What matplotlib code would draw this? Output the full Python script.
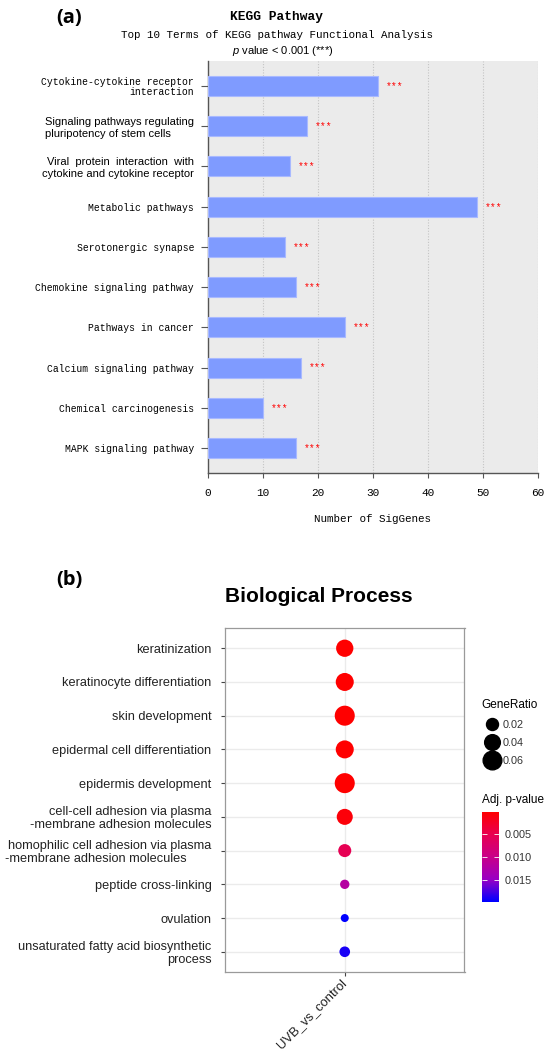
import matplotlib.pyplot as plt
import matplotlib.colors as mcolors
from matplotlib.lines import Line2D
import numpy as np

plt.rcParams['mathtext.fontset'] = 'custom'
plt.rcParams['mathtext.it'] = 'Liberation Sans:italic'
plt.rcParams['mathtext.rm'] = 'Liberation Sans'

MONO = "Liberation Mono"
SANS = "Liberation Sans"

# (a) KEGG pathway enrichment
kegg_terms = ["Cytokine-cytokine receptor\ninteraction",
              "Signaling pathways regulating\npluripotency of stem cells",
              "Viral  protein  interaction  with\ncytokine and cytokine receptor",
              "Metabolic pathways",
              "Serotonergic synapse",
              "Chemokine signaling pathway",
              "Pathways in cancer",
              "Calcium signaling pathway",
              "Chemical carcinogenesis",
              "MAPK signaling pathway"]
kegg_genes = [31, 18, 15, 49, 14, 16, 25, 17, 10, 16]
kegg_stars = ["***"] * 10
kegg_xticks = [0, 10, 20, 30, 40, 50, 60]
# these two labels were typeset in a proportional font in the original
kegg_sans_terms = [1, 2]

# (b) GO biological process dot plot
bp_terms = ["keratinization",
            "keratinocyte differentiation",
            "skin development",
            "epidermal cell differentiation",
            "epidermis development",
            "cell-cell adhesion via plasma\n-membrane adhesion molecules",
            "homophilic cell adhesion via plasma\n-membrane adhesion molecules       ",
            "peptide cross-linking",
            "ovulation",
            "unsaturated fatty acid biosynthetic\nprocess"]
bp_ratio = [0.050, 0.055, 0.070, 0.055, 0.070, 0.042, 0.025, 0.009, 0.0045, 0.014]
bp_padj = [0.00001, 0.00001, 0.00001, 0.00001, 0.00001, 0.0006, 0.0052, 0.012, 0.0198, 0.019]
bp_group = "UVB_vs_control"
ratio_breaks = [0.02, 0.04, 0.06]
padj_breaks = [0.005, 0.010, 0.015]

W, H = 550, 1057
fig = plt.figure(figsize=(W / 100, H / 100), dpi=100)


def size_pt(r):
    # dot diameter in points, area grows linearly with the ratio
    return np.sqrt(41 + 5150 * np.asarray(r)) * 0.72


# ---------------- (a)
ax1 = fig.add_axes([207.7 / W, 1 - 473 / H, 330.3 / W, 412 / H])
y = np.arange(len(kegg_terms))
ax1.barh(y, kegg_genes, height=0.5, color="#7f9bff", edgecolor="#a8b9ff",
         linewidth=0.8, zorder=3)
for yi, v, s in zip(y, kegg_genes, kegg_stars):
    ax1.text(v + 1.4, yi, s, color="red", fontsize=7, family=MONO,
             ha="left", va="center", zorder=4)
ax1.set_facecolor("#ebebeb")
ax1.set_xlim(0, 60)
ax1.set_ylim(len(y) - 1 + 0.62, -0.62)
ax1.set_xticks(kegg_xticks)
ax1.xaxis.grid(True, linestyle=(0, (1, 1.5)), color="#c4c4c4", lw=0.8)
ax1.set_axisbelow(True)
for sp in ["top", "right"]:
    ax1.spines[sp].set_visible(False)
for sp in ["left", "bottom"]:
    ax1.spines[sp].set_color("#555555")
    ax1.spines[sp].set_linewidth(1)
ax1.set_yticks(y)
ax1.set_yticklabels(kegg_terms, fontsize=7, family=MONO, linespacing=1.05)
for i, lab in enumerate(ax1.get_yticklabels()):
    if i in kegg_sans_terms:
        lab.set_family(SANS)
        lab.set_fontsize(8)
        lab.set_linespacing(1.2)
        if i == 1:
            lab.set_multialignment("left")
ax1.tick_params(axis="y", length=4.8, width=0.8, color="#555555", pad=5)
ax1.tick_params(axis="x", length=3.6, width=0.8, color="#555555", pad=7,
                labelsize=8)
for lab in ax1.get_xticklabels():
    lab.set_family(MONO)
ax1.set_xlabel("Number of SigGenes", family=MONO, fontsize=7.8, labelpad=12)

fig.text(56 / W, 1 - 18 / H, "(a)", fontsize=14.5, weight="bold", family="Open Sans",
         ha="left", va="center")
fig.text(277 / W, 1 - 17 / H, "KEGG Pathway", fontsize=9.3, weight="bold",
         family=MONO, ha="center", va="center")
fig.text(277 / W, 1 - 35 / H, "Top 10 Terms of KEGG pathway Functional Analysis",
         fontsize=7.8, family=MONO, ha="center", va="center")
fig.text(283 / W, 1 - 51 / H, r"$p$ value < 0.001 (***)", fontsize=8,
         family=SANS, ha="center", va="center")

# ---------------- (b)
stops = [(0.0, "#ff0000"), (0.25, "#e80050"), (0.5, "#c90088"),
         (0.75, "#9a00c3"), (1.0, "#0000ff")]
cmap = mcolors.LinearSegmentedColormap.from_list("redblue", stops)

ax2 = fig.add_axes([225 / W, 1 - 972 / H, 239.5 / W, 344 / H])
yb = np.arange(len(bp_terms))
sc = ax2.scatter([bp_group] * len(bp_terms), yb, s=size_pt(bp_ratio) ** 2,
                 c=bp_padj, cmap=cmap, vmin=min(bp_padj), vmax=max(bp_padj),
                 edgecolors="none", zorder=3)
ax2.set_xlim(-0.6, 0.6)
ax2.set_ylim(len(yb) - 1 + 0.6, -0.6)
ax2.set_yticks(yb)
ax2.set_yticklabels(bp_terms, fontsize=9.2, family=SANS, color="#222222",
                    linespacing=1.12)
ax2.grid(True, color="#ebebeb", lw=1)
ax2.set_axisbelow(True)
for sp in ax2.spines.values():
    sp.set_color("#9a9a9a")
    sp.set_linewidth(0.9)
ax2.tick_params(length=2.7, width=0.8, color="#444444", pad=7)
ax2.tick_params(axis="x", pad=4)
for lab in ax2.get_xticklabels():
    lab.set_rotation(45)
    lab.set_ha("right")
    lab.set_va("center")
    lab.set_rotation_mode("anchor")
    lab.set_family(SANS)
    lab.set_fontsize(9.4)
    lab.set_color("#222222")

fig.text(56 / W, 1 - 580 / H, "(b)", fontsize=14.5, weight="bold", family="Open Sans",
         ha="left", va="center")
fig.text(319 / W, 1 - 597 / H, "Biological Process", fontsize=15, weight="bold",
         family=SANS, ha="center", va="center")

# size legend
handles = [Line2D([], [], ls="none", marker="o", color="black",
                  markersize=size_pt(r)) for r in ratio_breaks]
leg = fig.legend(handles, [f"{r:.2f}" for r in ratio_breaks], title="GeneRatio",
                 loc="upper left", bbox_to_anchor=(476 / W, 1 - 694 / H),
                 frameon=False, fontsize=7.8, title_fontsize=8.5,
                 labelspacing=0.75, handlelength=1.9, handletextpad=0.1,
                 borderpad=0, alignment="left")
for t in leg.get_texts():
    t.set_family(SANS)
    t.set_color("#333333")
leg.get_title().set_family(SANS)

# colour bar
cax = fig.add_axes([481.7 / W, 1 - 901.7 / H, 17.6 / W, 90 / H])
cb = fig.colorbar(sc, cax=cax, ticks=padj_breaks)
cb.ax.invert_yaxis()
cb.outline.set_visible(False)
cb.ax.set_yticklabels([f"{v:.3f}" for v in padj_breaks])
cb.ax.tick_params(length=3.5, width=0.6, color="white", direction="in",
                  left=True, right=True, labelsize=7.8, labelcolor="#333333", pad=4)
for lab in cb.ax.get_yticklabels():
    lab.set_family(SANS)
fig.text(481.7 / W, 1 - 800 / H, "Adj. p-value", fontsize=8.5, family=SANS,
         ha="left", va="center")

fig.savefig("out.png", dpi=100)
